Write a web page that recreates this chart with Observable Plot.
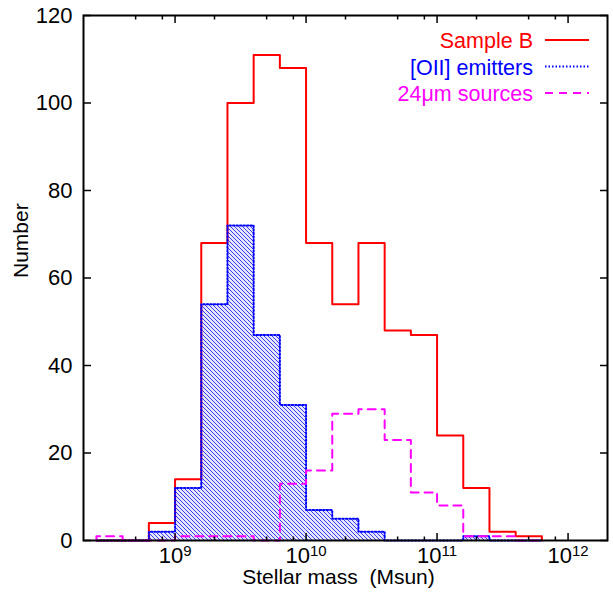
<!DOCTYPE html>
<html><head><meta charset="utf-8">
<script src="https://cdn.jsdelivr.net/npm/d3@7"></script>
<script src="https://cdn.jsdelivr.net/npm/@observablehq/plot@0.6"></script>
<style>
body{margin:0;background:#fff;}
#chart svg{font-family:"Liberation Sans",Arial,Helvetica,sans-serif;}
</style>
</head><body><div id="chart"></div>
<script>
// Bin lower edges in log10(Msun), width 0.2 dex
const binLogLow = [8.4, 8.6, 8.8, 9.0, 9.2, 9.4, 9.6, 9.8, 10.0, 10.2, 10.4, 10.6, 10.8, 11.0, 11.2, 11.4, 11.6];
const binWidthDex = 0.2;
const sampleB     = [0, 0, 4, 14, 68, 100, 111, 108, 68, 54, 68, 48, 47, 24, 12, 2, 1];
const oiiEmitters = [0, 0, 2, 12, 54, 72, 47, 31, 7, 5, 2, 0, 0, 0, 1, 0, 0];
const mips24      = [1, 0, 0, 1, 1, 1, 0, 13, 16, 29, 30, 23, 11, 8, 1, 1, 0];
const seriesNames = ["Sample B", "[OII] emitters", "24\u03bcm sources"];
const seriesColors = ["#ff0000", "#0000ff", "#ff00ff"];
const xMajorTicks = [1e9, 1e10, 1e11, 1e12];
const xMinorTicks = [5e8, 8e8, 2e9, 5e9, 8e9, 2e10, 5e10, 8e10, 2e11, 5e11, 8e11];
const yTicks = [0, 20, 40, 60, 80, 100, 120];
const xTitle = "Stellar mass  (Msun)";
const yTitle = "Number";

const bins = binLogLow.map((lo, i) => ({
  x1: Math.pow(10, lo), x2: Math.pow(10, lo + binWidthDex),
  b: sampleB[i], o: oiiEmitters[i], m: mips24[i]
}));
function stepPoints(key) {
  const pts = [];
  bins.forEach((d, i) => {
    if (i === 0) pts.push({x: d.x1, y: 0});
    pts.push({x: d.x1, y: d[key]}, {x: d.x2, y: d[key]});
  });
  pts.push({x: bins[bins.length - 1].x2, y: 0});
  return pts;
}
const dashB = null, dashO = "1.5,2", dashM = "8,6";
const noText = () => "";

const plot = Plot.plot({
  width: 613, height: 595,
  marginLeft: 83, marginRight: 6, marginTop: 15, marginBottom: 55,
  style: {fontFamily: "'Liberation Sans', Arial, sans-serif", fontSize: "22px", color: "black", background: "white", overflow: "visible"},
  x: {type: "log", domain: [2e8, 2e12]},
  y: {domain: [0, 120]},
  marks: [
    Plot.rectY(bins, {x1: "x1", x2: "x2", y: "o", fill: "url(#hatch)"}),
    Plot.line(stepPoints("b"), {x: "x", y: "y", stroke: seriesColors[0], strokeWidth: 2}),
    Plot.line(stepPoints("o"), {x: "x", y: "y", stroke: seriesColors[1], strokeWidth: 2, strokeDasharray: dashO}),
    Plot.line(stepPoints("m"), {x: "x", y: "y", stroke: seriesColors[2], strokeWidth: 2, strokeDasharray: dashM}),
    Plot.axisX(xMajorTicks, {anchor: "bottom", tickSize: -7, strokeWidth: 1.5, tickFormat: noText, label: null}),
    Plot.axisX(xMajorTicks, {anchor: "top", tickSize: -7, strokeWidth: 1.5, tickFormat: noText, label: null}),
    Plot.axisX(xMinorTicks, {anchor: "bottom", tickSize: -3.5, strokeWidth: 1.5, tickFormat: noText, label: null}),
    Plot.axisX(xMinorTicks, {anchor: "top", tickSize: -3.5, strokeWidth: 1.5, tickFormat: noText, label: null}),
    Plot.axisY(yTicks, {anchor: "left", tickSize: -8, strokeWidth: 1.5, tickFormat: noText, label: null}),
    Plot.axisY(yTicks, {anchor: "right", tickSize: -8, strokeWidth: 1.5, tickFormat: noText, label: null}),
    Plot.text(xMajorTicks, {x: d => d, frameAnchor: "bottom", lineAnchor: "top", dy: 7, fontSize: 22, fill: "black",
      text: d => "10^" + Math.round(Math.log10(d))}),
    Plot.text(yTicks, {y: d => d, frameAnchor: "left", dx: -11, textAnchor: "end", fontSize: 22, fill: "black",
      text: d => String(d)}),
    Plot.frame({stroke: "black", strokeWidth: 2}),
    Plot.text([xTitle], {frameAnchor: "bottom", dy: 43, dx: -7, fontSize: 21, fill: "black"}),
    Plot.text([yTitle], {frameAnchor: "left", dx: -62, rotate: -90, fontSize: 21, fill: "black"})
  ]
});

const svg = d3.select(plot);
// hatch pattern
const defs = svg.insert("defs", ":first-child");
const pat = defs.append("pattern").attr("id", "hatch").attr("patternUnits", "userSpaceOnUse")
  .attr("width", 4).attr("height", 4);
pat.append("rect").attr("width", 4).attr("height", 4).attr("fill", "#e6e6fb");
pat.append("path").attr("d", "M-1,-1 L5,5 M-1,3 L1,5 M3,-1 L5,1")
  .attr("stroke", "#3a3aee").attr("stroke-width", 1);

// superscript tick labels
svg.selectAll("text").each(function() {
  const t = d3.select(this);
  if (this.childElementCount) return;
  const parts = t.text().split("^");
  if (parts.length === 2) {
    t.text(parts[0]);
    t.append("tspan").attr("dy", "-0.45em").style("font-size", "15px").text(parts[1]);
  }
});

// legend
const leg = svg.append("g").style("font-size", "21.5px").attr("font-family", "'Liberation Sans', Arial, sans-serif");
const dashes = [dashB, dashO, dashM];
seriesNames.forEach((name, i) => {
  const yBase = 48 + i * 26.5;
  leg.append("text").attr("x", 533).attr("y", yBase).attr("text-anchor", "end")
    .attr("fill", seriesColors[i]).text(name);
  leg.append("line").attr("x1", 545).attr("x2", 589).attr("y1", yBase - 8).attr("y2", yBase - 8)
    .attr("stroke", seriesColors[i]).attr("stroke-width", 2)
    .attr("stroke-dasharray", dashes[i]);
});

document.getElementById("chart").append(plot);
</script>
</body></html>
